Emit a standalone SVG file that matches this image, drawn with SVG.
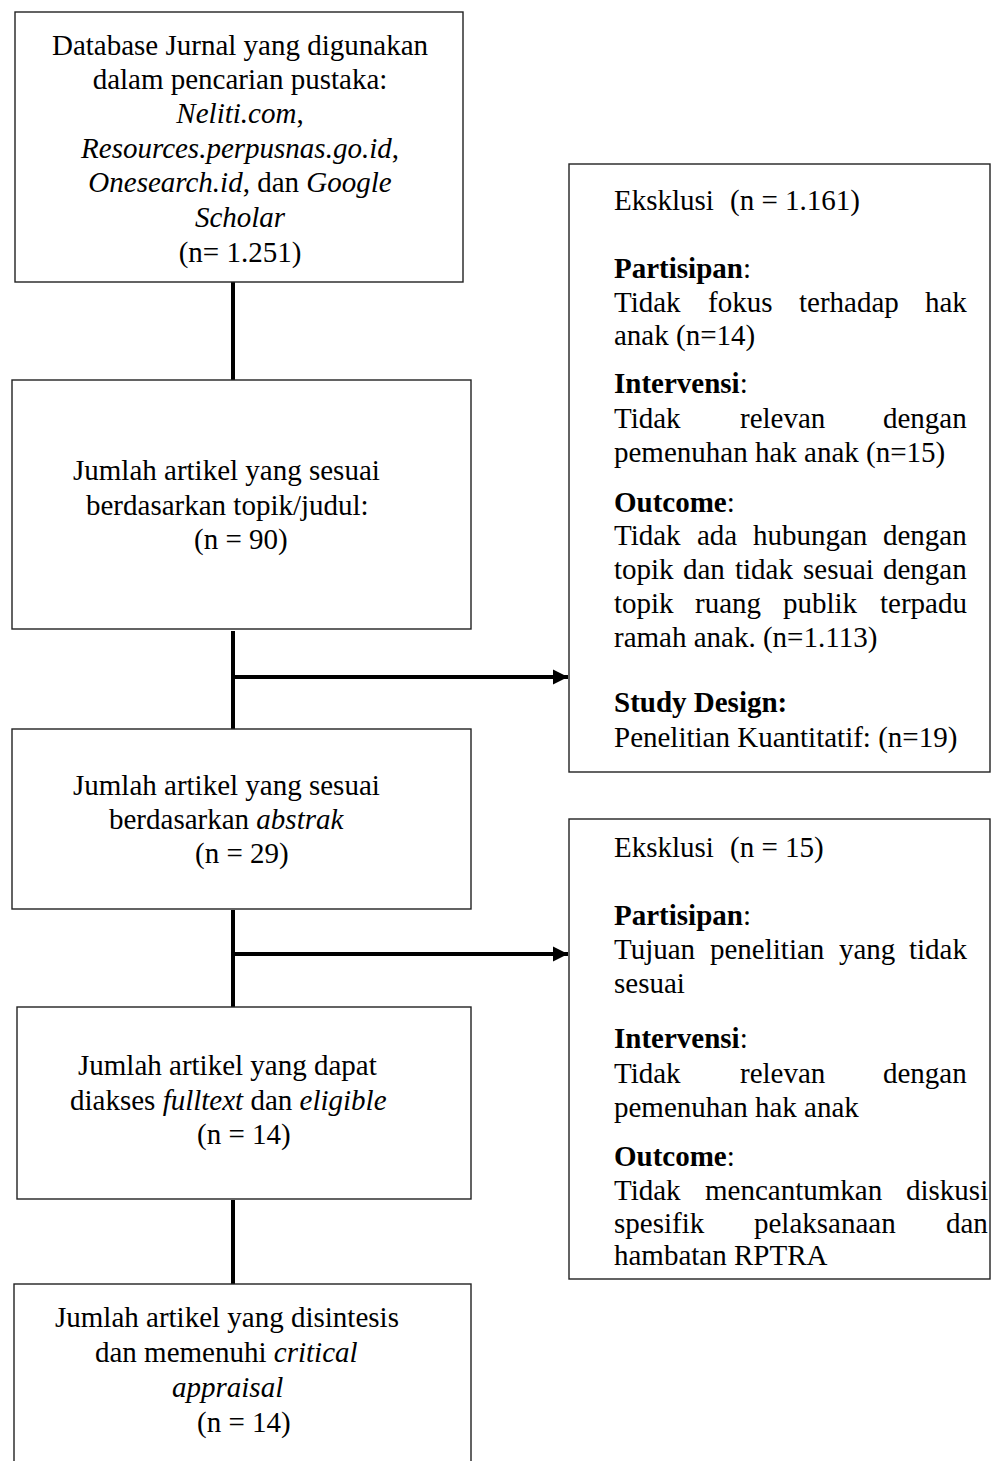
<svg xmlns="http://www.w3.org/2000/svg" width="991" height="1461" viewBox="0 0 991 1461">
<style>
.box{fill:#fff;stroke:#222;stroke-width:1.4}
text{font-family:"Liberation Serif","Times New Roman",serif;font-size:29px;fill:#000}
.c{text-anchor:middle}
.i{font-style:italic}
.b{font-weight:bold}
.con{stroke:#000;stroke-width:4;fill:none}
</style>
<defs>
<marker id="ah" markerUnits="userSpaceOnUse" markerWidth="16" markerHeight="16" viewBox="0 0 16 16" refX="15" refY="8" orient="auto">
<path d="M0,0.5 L15,8 L0,15.5 Z" fill="#000"/>
</marker>
</defs>
<rect width="991" height="1461" fill="#fff"/>
<g id="connectors">
<line class="con" x1="233" y1="282" x2="233" y2="380"/>
<line class="con" x1="233" y1="631" x2="233" y2="729"/>
<line class="con" x1="231" y1="677" x2="568" y2="677" marker-end="url(#ah)"/>
<line class="con" x1="233" y1="910" x2="233" y2="1007"/>
<line class="con" x1="231" y1="954" x2="568" y2="954" marker-end="url(#ah)"/>
<line class="con" x1="233" y1="1200" x2="233" y2="1284"/>
</g>
<g id="n1">
<rect class="box" x="15" y="12" width="448" height="270"/>
<text class="c" x="240" y="55">Database Jurnal yang digunakan</text>
<text class="c" x="240" y="89">dalam pencarian pustaka:</text>
<text class="c" x="240" y="123"><tspan class="i">Neliti.com</tspan>,</text>
<text class="c" x="240" y="158"><tspan class="i">Resources.perpusnas.go.id</tspan>,</text>
<text class="c" x="240" y="192"><tspan class="i">Onesearch.id</tspan>, dan <tspan class="i">Google</tspan></text>
<text class="c i" x="240" y="227">Scholar</text>
<text class="c" x="240" y="262">(n= 1.251)</text>
</g>
<g id="n2">
<rect class="box" x="12" y="380" width="459" height="249"/>
<text x="73" y="480">Jumlah artikel yang sesuai</text>
<text x="86" y="515">berdasarkan topik/judul:</text>
<text x="194" y="549">(n = 90)</text>
</g>
<g id="n3">
<rect class="box" x="12" y="729" width="459" height="180"/>
<text x="73" y="795">Jumlah artikel yang sesuai</text>
<text x="109" y="829">berdasarkan <tspan class="i">abstrak</tspan></text>
<text x="195" y="863">(n = 29)</text>
</g>
<g id="n4">
<rect class="box" x="17" y="1007" width="454" height="192"/>
<text x="78" y="1075">Jumlah artikel yang dapat</text>
<text x="70" y="1110">diakses <tspan class="i">fulltext</tspan> dan <tspan class="i">eligible</tspan></text>
<text x="197" y="1144">(n = 14)</text>
</g>
<g id="n5">
<rect class="box" x="14" y="1284" width="457" height="190"/>
<text x="55" y="1327">Jumlah artikel yang disintesis</text>
<text x="95" y="1362">dan memenuhi <tspan class="i">critical</tspan></text>
<text class="i" x="172" y="1397">appraisal</text>
<text x="197" y="1432">(n = 14)</text>
</g>
<g id="e1">
<rect class="box" x="569" y="164" width="421" height="608"/>
<text x="614" y="210">Eksklusi<tspan x="730">(n = 1.161)</tspan></text>
<text x="614" y="278"><tspan class="b">Partisipan</tspan>:</text>
<text y="312"><tspan x="614">Tidak</tspan><tspan x="708">fokus</tspan><tspan x="799">terhadap</tspan><tspan x="925">hak</tspan></text>
<text x="614" y="345">anak (n=14)</text>
<text x="614" y="393"><tspan class="b">Intervensi</tspan>:</text>
<text y="428"><tspan x="614">Tidak</tspan><tspan x="740">relevan</tspan><tspan x="883">dengan</tspan></text>
<text x="614" y="462">pemenuhan hak anak (n=15)</text>
<text x="614" y="512"><tspan class="b">Outcome</tspan>:</text>
<text y="545"><tspan x="614">Tidak</tspan><tspan x="697">ada</tspan><tspan x="753">hubungan</tspan><tspan x="883">dengan</tspan></text>
<text y="579"><tspan x="614">topik</tspan><tspan x="683">dan</tspan><tspan x="735">tidak</tspan><tspan x="803">sesuai</tspan><tspan x="883">dengan</tspan></text>
<text y="613"><tspan x="614">topik</tspan><tspan x="695">ruang</tspan><tspan x="783">publik</tspan><tspan x="880">terpadu</tspan></text>
<text x="614" y="647">ramah anak. (n=1.113)</text>
<text class="b" x="614" y="712">Study Design:</text>
<text x="614" y="747">Penelitian Kuantitatif: (n=19)</text>
</g>
<g id="e2">
<rect class="box" x="569" y="819" width="421" height="460"/>
<text x="614" y="857">Eksklusi<tspan x="730">(n = 15)</tspan></text>
<text x="614" y="925"><tspan class="b">Partisipan</tspan>:</text>
<text y="959"><tspan x="614">Tujuan</tspan><tspan x="710">penelitian</tspan><tspan x="839">yang</tspan><tspan x="909">tidak</tspan></text>
<text x="614" y="993">sesuai</text>
<text x="614" y="1048"><tspan class="b">Intervensi</tspan>:</text>
<text y="1083"><tspan x="614">Tidak</tspan><tspan x="740">relevan</tspan><tspan x="883">dengan</tspan></text>
<text x="614" y="1117">pemenuhan hak anak</text>
<text x="614" y="1166"><tspan class="b">Outcome</tspan>:</text>
<text y="1200"><tspan x="614">Tidak</tspan><tspan x="705">mencantumkan</tspan><tspan x="906">diskusi</tspan></text>
<text y="1233"><tspan x="614">spesifik</tspan><tspan x="754">pelaksanaan</tspan><tspan x="946">dan</tspan></text>
<text x="614" y="1265">hambatan RPTRA</text>
</g>
</svg>
